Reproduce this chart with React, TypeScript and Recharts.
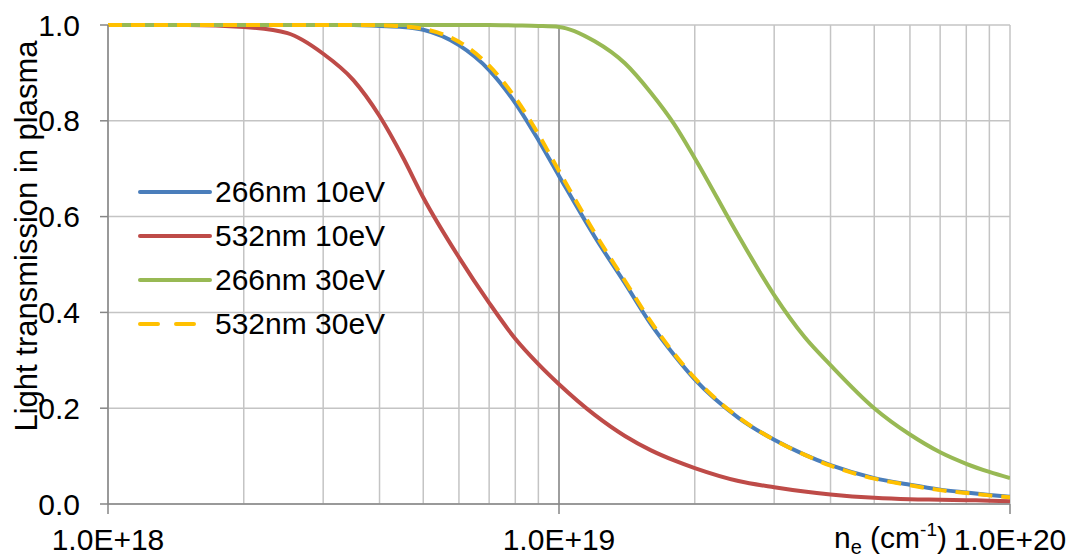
import {
  LineChart,
  Line,
  XAxis,
  YAxis,
  CartesianGrid,
  Legend,
  ReferenceLine,
} from 'recharts';

// electron density n_e (cm^-1), log axis
const density = [
  1e18, 1.5e18, 2e18, 2.5e18, 3e18, 3.5e18, 4e18, 4.5e18, 5e18, 6e18, 7e18, 8e18, 9e18,
  1e19, 1.2e19, 1.4e19, 1.6e19, 1.8e19, 2e19, 2.5e19, 3e19, 3.5e19, 4e19, 5e19, 6e19,
  7e19, 8e19, 9e19, 1e20,
];

const nm266ev10 = [
  1.0, 1.0, 1.0, 1.0, 1.0, 1.0, 0.998, 0.996, 0.99, 0.958, 0.906, 0.837, 0.76,
  0.685, 0.558, 0.461, 0.375, 0.311, 0.26, 0.18, 0.134, 0.103, 0.081, 0.054, 0.04,
  0.03, 0.024, 0.019, 0.015,
];

const nm532ev10 = [
  1.0, 1.0, 0.996, 0.983, 0.94, 0.885, 0.81, 0.725, 0.64, 0.515, 0.42, 0.345, 0.292,
  0.25, 0.186, 0.142, 0.112, 0.091, 0.075, 0.048, 0.035, 0.026, 0.02, 0.013, 0.01,
  0.009, 0.008, 0.007, 0.006,
];

const nm266ev30 = [
  1.0, 1.0, 1.0, 1.0, 1.0, 1.0, 1.0, 1.0, 1.0, 1.0, 1.0, 0.999, 0.998,
  0.996, 0.966, 0.92, 0.858, 0.793, 0.722, 0.56, 0.436, 0.349, 0.29, 0.2, 0.145,
  0.108, 0.084, 0.067, 0.054,
];

const nm532ev30 = [
  1.0, 1.0, 1.0, 1.0, 1.0, 1.0, 0.999, 0.997, 0.992, 0.965, 0.915, 0.848, 0.772,
  0.695, 0.566, 0.466, 0.38, 0.314, 0.263, 0.181, 0.134, 0.103, 0.08, 0.053, 0.039,
  0.029, 0.023, 0.018, 0.014,
];

const xTicks = [
  1e18, 2e18, 3e18, 4e18, 5e18, 6e18, 7e18, 8e18, 9e18,
  1e19, 2e19, 3e19, 4e19, 5e19, 6e19, 7e19, 8e19, 9e19, 1e20,
];
const xLabelTicks = [1e18, 1e19, 1e20];
const yTicks = [0, 0.2, 0.4, 0.6, 0.8, 1.0];

const series = [
  { key: 'a', name: '266nm 10eV', color: '#4a7ebb', dash: undefined },
  { key: 'b', name: '532nm 10eV', color: '#be4b48', dash: undefined },
  { key: 'c', name: '266nm 30eV', color: '#98b954', dash: undefined },
  { key: 'd', name: '532nm 30eV', color: '#ffc000', dash: '14 9' },
];

const data = density.map((n, i) => ({
  n,
  a: nm266ev10[i],
  b: nm532ev10[i],
  c: nm266ev30[i],
  d: nm532ev30[i],
}));

const FONT = '"Liberation Sans", Arial, sans-serif';
const AXIS = '#868686';

const XTick = ({ x, y, payload }: any) => {
  const v = payload.value;
  if (!xLabelTicks.includes(v)) return null;
  const exp = Math.round(Math.log10(v));
  return (
    <g>
      <line x1={x} y1={y} x2={x} y2={y + 10} stroke={AXIS} strokeWidth={1.5} />
      <text x={x} y={y + 46} textAnchor="middle" fontSize={30} fontFamily={FONT} fill="#000">
        {`1.0E+${exp}`}
      </text>
    </g>
  );
};

const XLabel = ({ viewBox }: any) => {
  const right = viewBox.x + viewBox.width - 63;
  const base = viewBox.y + 44;
  return (
    <text x={right} y={base} textAnchor="end" fontSize={30} fontFamily={FONT} fill="#000">
      n<tspan fontSize={20} dy={6}>e</tspan>
      <tspan dy={-6}> (cm</tspan>
      <tspan fontSize={19} dy={-12}>-1</tspan>
      <tspan dy={12}>)</tspan>
    </text>
  );
};

const YLabel = () => (
  <text
    x={37}
    y={236}
    transform="rotate(-90 37 236)"
    textAnchor="middle"
    fontSize={31}
    fontFamily={FONT}
    fill="#000"
  >
    Light transmission in plasma
  </text>
);

const LegendBox = () => (
  <div style={{ fontFamily: FONT, fontSize: 30, color: '#000' }}>
    {series.map((s) => (
      <div key={s.key} style={{ display: 'flex', alignItems: 'center', height: 44 }}>
        <svg width={77} height={10} style={{ display: 'block' }}>
          <line
            x1={2}
            y1={5}
            x2={72}
            y2={5}
            stroke={s.color}
            strokeWidth={4}
            strokeLinecap="round"
            strokeDasharray={s.dash ? '18 18' : undefined}
          />
        </svg>
        <span style={{ lineHeight: '44px', whiteSpace: 'nowrap' }}>{s.name}</span>
      </div>
    ))}
  </div>
);

export default function App() {
  return (
    <div style={{ position: 'absolute', left: 0, top: 0, background: '#fff' }}>
      <LineChart
        width={1073}
        height={557}
        data={data}
        margin={{ top: 25, right: 63, left: 0, bottom: 0 }}
      >
        <CartesianGrid stroke="#c4c4c4" strokeWidth={1.5} />
        <ReferenceLine x={1e19} stroke="#8c8c8c" strokeWidth={1.5} />
        <XAxis
          dataKey="n"
          type="number"
          scale="log"
          domain={[1e18, 1e20]}
          ticks={xTicks}
          interval={0}
          allowDataOverflow
          height={53}
          tickLine={false}
          tickSize={0}
          tickMargin={0}
          stroke={AXIS}
          strokeWidth={1.5}
          tick={<XTick />}
          label={<XLabel />}
        />
        <YAxis
          type="number"
          domain={[0, 1]}
          ticks={yTicks}
          width={108}
          tickSize={8}
          tickMargin={20}
          stroke={AXIS}
          strokeWidth={1.5}
          tickFormatter={(v: number) => v.toFixed(1)}
          tick={{ fill: '#000', fontSize: 30, fontFamily: FONT }}
          label={<YLabel />}
        />
        <Legend
          layout="vertical"
          align="center"
          verticalAlign="middle"
          content={<LegendBox />}
          wrapperStyle={{ position: 'absolute', left: 138, top: 170, width: 'auto', height: 'auto' }}
        />
        {series.map((s) => (
          <Line
            key={s.key}
            type="monotone"
            dataKey={s.key}
            name={s.name}
            stroke={s.color}
            strokeWidth={4}
            strokeDasharray={s.dash}
            dot={false}
            activeDot={false}
            isAnimationActive={false}
          />
        ))}
      </LineChart>
    </div>
  );
}
